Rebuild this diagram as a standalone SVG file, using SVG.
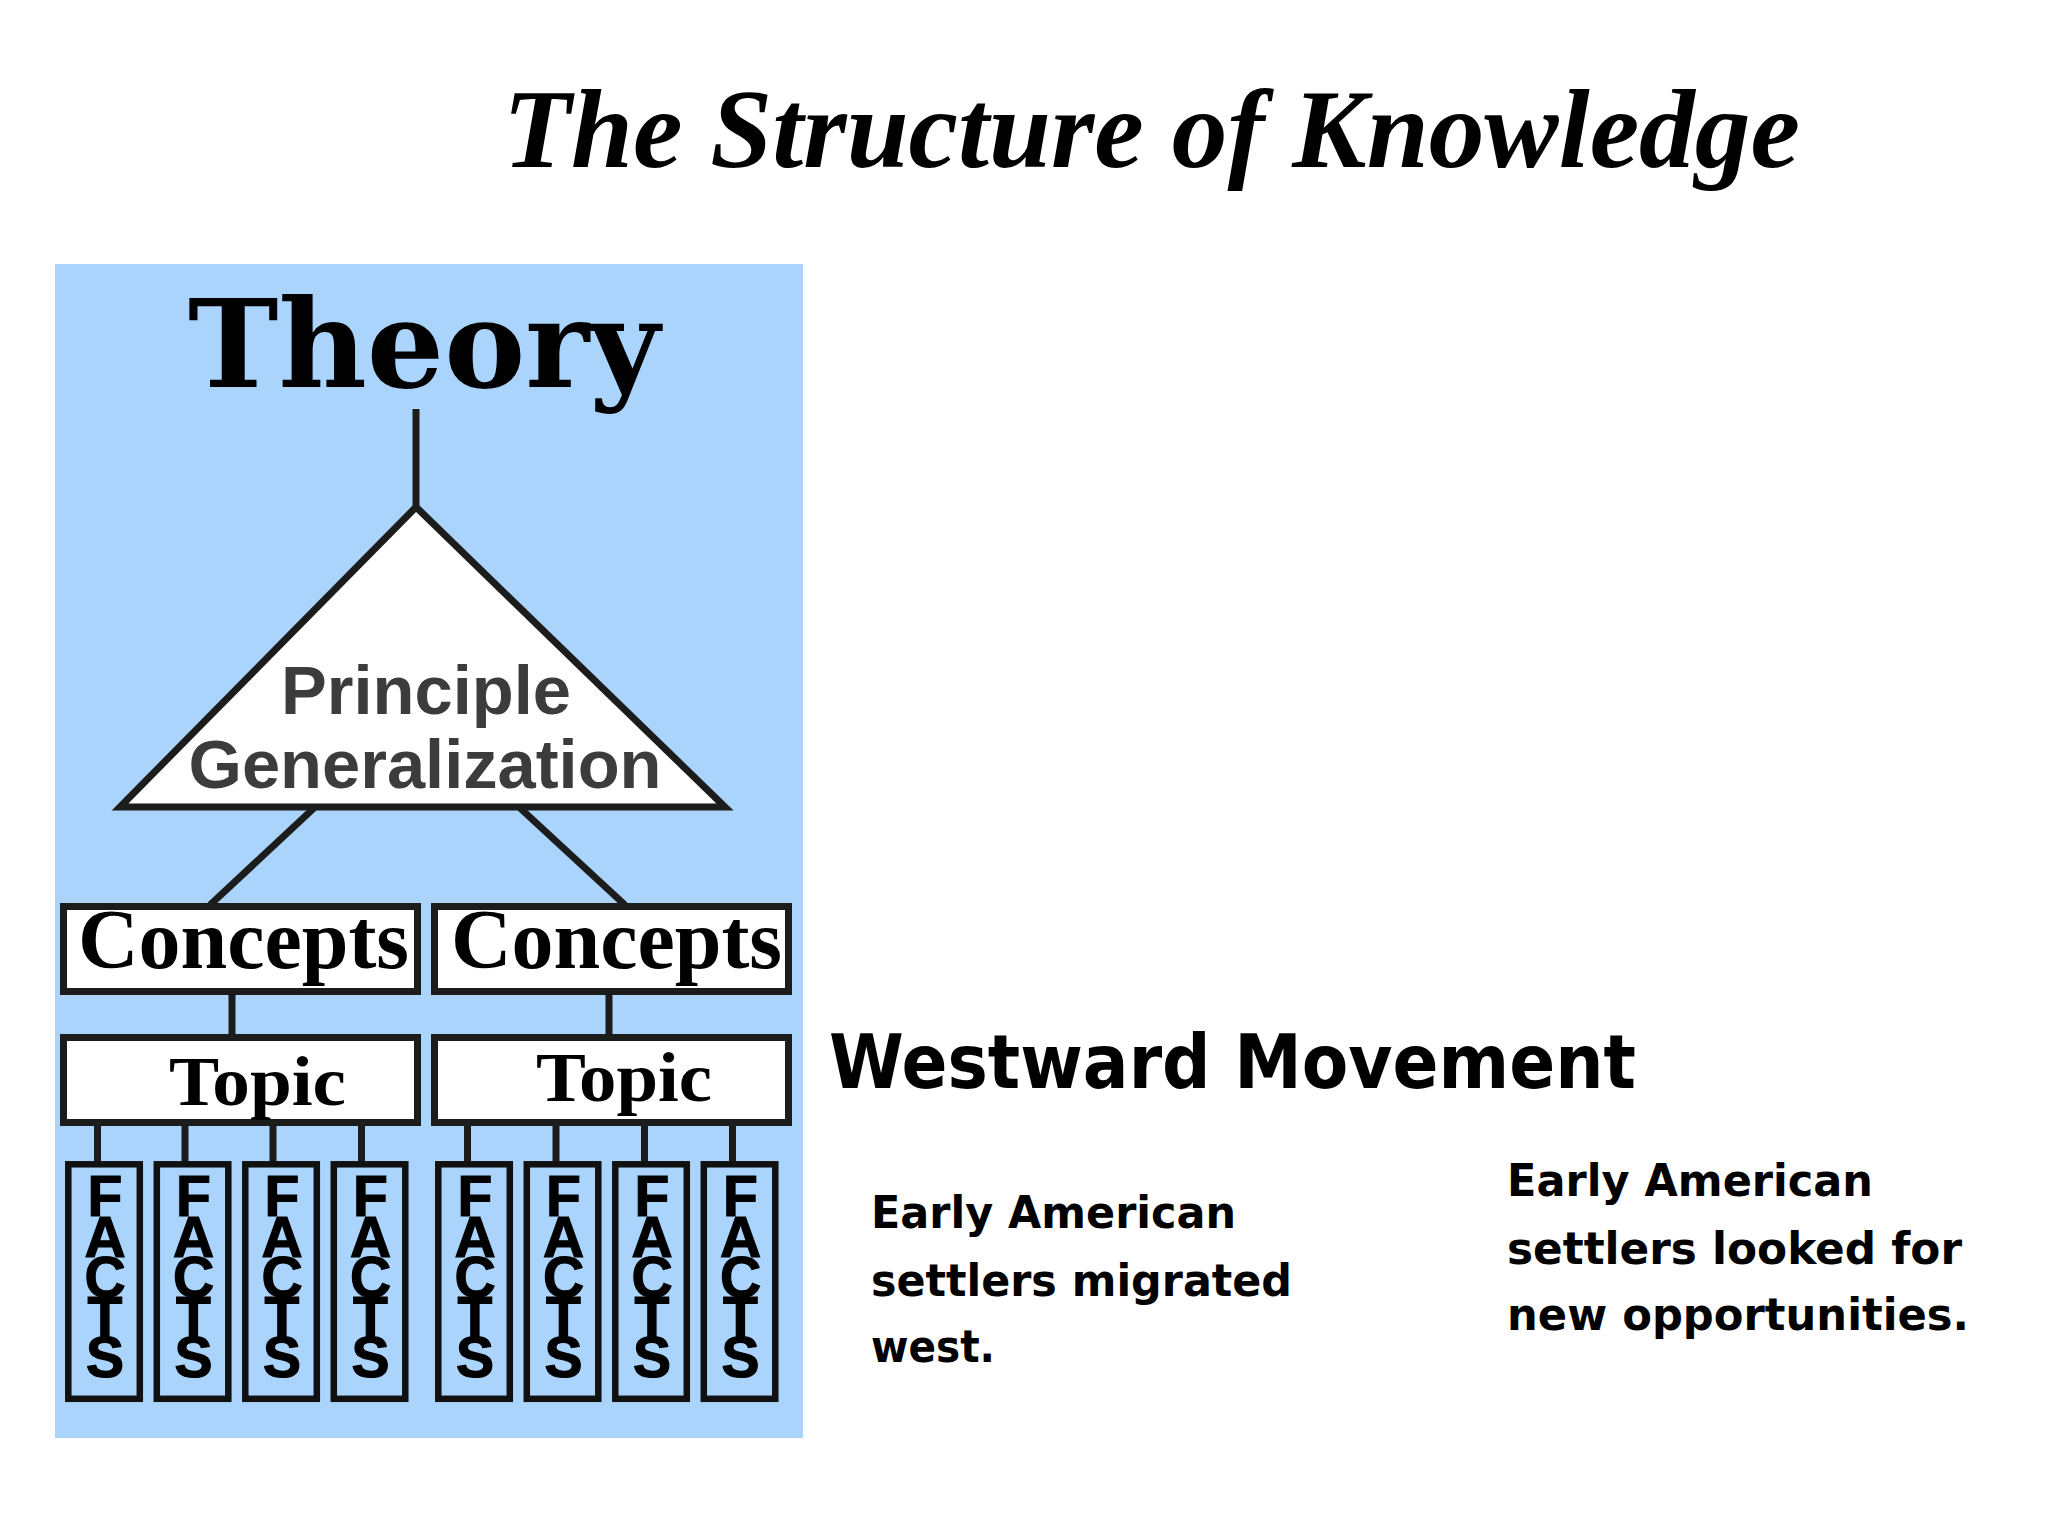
<svg xmlns="http://www.w3.org/2000/svg" width="2048" height="1536" viewBox="0 0 2048 1536">
<defs>
<style>
.bg{fill:#aad4fb}
.box{fill:#ffffff;stroke:#1c1c1c;stroke-width:7}
.fbox{fill:none;stroke:#111111;stroke-width:6.5}
.ln{stroke:#1c1c1c;stroke-width:7;fill:none}
.title{font-family:"Liberation Serif","Times New Roman",serif;font-weight:bold;font-style:italic;font-size:112px;fill:#000}
.theory{font-family:"DejaVu Serif",serif;font-weight:bold;font-size:122px;fill:#000}
.prin{font-family:"Liberation Sans",Arial,sans-serif;font-weight:bold;font-size:68px;fill:#3c3c3e;text-anchor:middle}
.serif{font-family:"Liberation Serif","Times New Roman",serif;font-weight:bold;fill:#000}
.facts{font-family:"Liberation Sans",Arial,sans-serif;font-weight:bold;font-size:57px;fill:#000;stroke:#000;stroke-width:1.2;text-anchor:middle}
.head{font-family:"DejaVu Sans",sans-serif;font-weight:bold;font-size:75px;fill:#000}
.body{font-family:"DejaVu Sans",sans-serif;font-weight:bold;font-size:45px;fill:#000}
</style>
</defs>
<rect width="2048" height="1536" fill="#ffffff"/>
<g id="title"><text class="title" x="503" y="167" textLength="1297" lengthAdjust="spacingAndGlyphs">The Structure of Knowledge</text></g>
<rect class="bg" x="55" y="264" width="748" height="1174"/>
<g id="connectors">
<line class="ln" x1="416" y1="409" x2="416" y2="507"/>
<line class="ln" x1="314" y1="808" x2="210" y2="905"/>
<line class="ln" x1="520" y1="808" x2="625" y2="905"/>
<line class="ln" x1="232" y1="993" x2="232" y2="1036"/>
<line class="ln" x1="609" y1="993" x2="609" y2="1036"/>
<line class="ln" x1="97.5" y1="1124" x2="97.5" y2="1163"/>
<line class="ln" x1="185" y1="1124" x2="185" y2="1163"/>
<line class="ln" x1="273" y1="1124" x2="273" y2="1163"/>
<line class="ln" x1="361.5" y1="1124" x2="361.5" y2="1163"/>
<line class="ln" x1="467.5" y1="1124" x2="467.5" y2="1163"/>
<line class="ln" x1="556" y1="1124" x2="556" y2="1163"/>
<line class="ln" x1="644.5" y1="1124" x2="644.5" y2="1163"/>
<line class="ln" x1="732.5" y1="1124" x2="732.5" y2="1163"/>
</g>
<g id="theory"><text class="theory" x="188" y="387" textLength="472" lengthAdjust="spacingAndGlyphs">Theory</text></g>
<g id="principle">
<polygon class="box" points="416,507 725,807 120,807"/>
<text class="prin" x="426" y="714" textLength="290" lengthAdjust="spacingAndGlyphs">Principle</text>
<text class="prin" x="425" y="788" textLength="473" lengthAdjust="spacingAndGlyphs">Generalization</text>
</g>
<g id="concepts-left">
<rect class="box" x="63.5" y="906.5" width="354" height="85"/>
<text class="serif" x="78" y="968" font-size="84" textLength="331" lengthAdjust="spacingAndGlyphs">Concepts</text>
</g>
<g id="concepts-right">
<rect class="box" x="434.5" y="906.5" width="354" height="85"/>
<text class="serif" x="451" y="968" font-size="84" textLength="331" lengthAdjust="spacingAndGlyphs">Concepts</text>
</g>
<g id="topic-left">
<rect class="box" x="63.5" y="1037.5" width="354" height="85"/>
<text class="serif" x="169" y="1105" font-size="70" textLength="177" lengthAdjust="spacingAndGlyphs">Topic</text>
</g>
<g id="topic-right">
<rect class="box" x="434.5" y="1037.5" width="354" height="85"/>
<text class="serif" x="536" y="1101" font-size="70" textLength="176" lengthAdjust="spacingAndGlyphs">Topic</text>
</g>
<g id="facts-1"><rect class="fbox" x="68.3" y="1164.3" width="71.5" height="234.5"/><text class="facts"><tspan x="105" y="1216">F</tspan><tspan x="105" y="1256.5">A</tspan><tspan x="105" y="1297">C</tspan><tspan x="105" y="1337">T</tspan><tspan x="105" y="1377">S</tspan></text></g>
<g id="facts-2"><rect class="fbox" x="156.8" y="1164.3" width="71.5" height="234.5"/><text class="facts"><tspan x="193.5" y="1216">F</tspan><tspan x="193.5" y="1256.5">A</tspan><tspan x="193.5" y="1297">C</tspan><tspan x="193.5" y="1337">T</tspan><tspan x="193.5" y="1377">S</tspan></text></g>
<g id="facts-3"><rect class="fbox" x="245.3" y="1164.3" width="71.5" height="234.5"/><text class="facts"><tspan x="282" y="1216">F</tspan><tspan x="282" y="1256.5">A</tspan><tspan x="282" y="1297">C</tspan><tspan x="282" y="1337">T</tspan><tspan x="282" y="1377">S</tspan></text></g>
<g id="facts-4"><rect class="fbox" x="333.8" y="1164.3" width="71.5" height="234.5"/><text class="facts"><tspan x="370.5" y="1216">F</tspan><tspan x="370.5" y="1256.5">A</tspan><tspan x="370.5" y="1297">C</tspan><tspan x="370.5" y="1337">T</tspan><tspan x="370.5" y="1377">S</tspan></text></g>
<g id="facts-5"><rect class="fbox" x="438.3" y="1164.3" width="71.5" height="234.5"/><text class="facts"><tspan x="475" y="1216">F</tspan><tspan x="475" y="1256.5">A</tspan><tspan x="475" y="1297">C</tspan><tspan x="475" y="1337">T</tspan><tspan x="475" y="1377">S</tspan></text></g>
<g id="facts-6"><rect class="fbox" x="526.8" y="1164.3" width="71.5" height="234.5"/><text class="facts"><tspan x="563.5" y="1216">F</tspan><tspan x="563.5" y="1256.5">A</tspan><tspan x="563.5" y="1297">C</tspan><tspan x="563.5" y="1337">T</tspan><tspan x="563.5" y="1377">S</tspan></text></g>
<g id="facts-7"><rect class="fbox" x="615.3" y="1164.3" width="71.5" height="234.5"/><text class="facts"><tspan x="652" y="1216">F</tspan><tspan x="652" y="1256.5">A</tspan><tspan x="652" y="1297">C</tspan><tspan x="652" y="1337">T</tspan><tspan x="652" y="1377">S</tspan></text></g>
<g id="facts-8"><rect class="fbox" x="703.8" y="1164.3" width="71.5" height="234.5"/><text class="facts"><tspan x="740.5" y="1216">F</tspan><tspan x="740.5" y="1256.5">A</tspan><tspan x="740.5" y="1297">C</tspan><tspan x="740.5" y="1337">T</tspan><tspan x="740.5" y="1377">S</tspan></text></g>
<g id="westward"><text class="head" x="829" y="1088" textLength="807" lengthAdjust="spacingAndGlyphs">Westward Movement</text></g>
<g id="text-left">
<text class="body" x="871" y="1228" textLength="365" lengthAdjust="spacingAndGlyphs">Early American</text>
<text class="body" x="871" y="1296" textLength="421" lengthAdjust="spacingAndGlyphs">settlers migrated</text>
<text class="body" x="871" y="1362" textLength="124" lengthAdjust="spacingAndGlyphs">west.</text>
</g>
<g id="text-right">
<text class="body" x="1507" y="1196" textLength="366" lengthAdjust="spacingAndGlyphs">Early American</text>
<text class="body" x="1507" y="1264" textLength="455" lengthAdjust="spacingAndGlyphs">settlers looked for</text>
<text class="body" x="1507" y="1330" textLength="462" lengthAdjust="spacingAndGlyphs">new opportunities.</text>
</g>
</svg>
